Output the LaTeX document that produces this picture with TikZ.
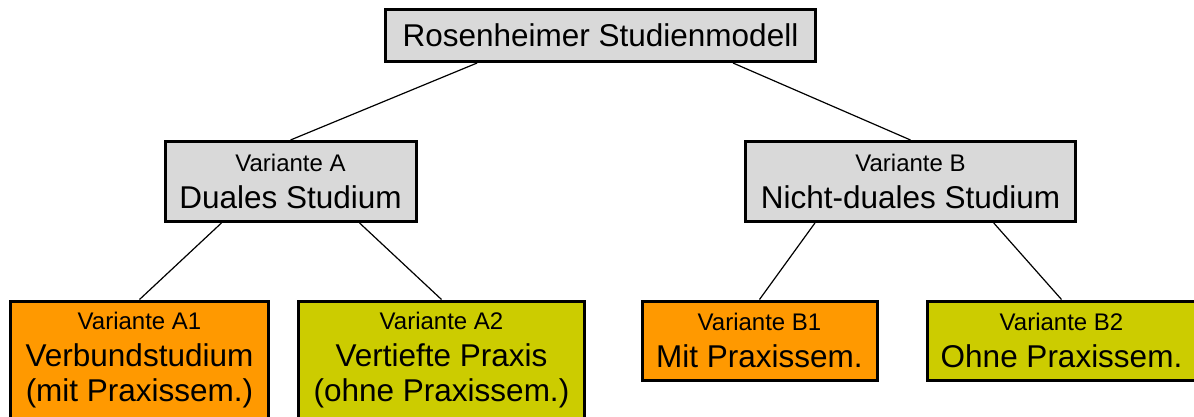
\documentclass[tikz,border=0pt]{standalone}
\usepackage{fontspec}
\setmainfont{Liberation Sans}
\usetikzlibrary{calc}

\definecolor{boxgray}{HTML}{D9D9D9}
\definecolor{varorange}{HTML}{FF9900}
\definecolor{varolive}{HTML}{CCCC00}

\newcommand{\varname}[1]{{\fontsize{24}{28}\selectfont #1}\\[2pt]}

\begin{document}
\begin{tikzpicture}[level 1/.style={level distance=104.5pt, sibling distance=620pt},
        level 2/.style={level distance=118pt, sibling distance=302pt},
        box/.style={draw, line width=3pt, anchor=north, inner sep=0pt, align=center,
            font=\fontsize{31.5}{35}\selectfont},
        stem/.style={edge from parent path={($(\tikzparentnode.south west)!#1!(\tikzparentnode.south east)$) -- (\tikzchildnode.north)}},
        edge from parent/.style={draw, line width=1.2pt}]
            \useasboundingbox (0,0) rectangle (1194pt,-416pt);
            \node [box,fill=boxgray,minimum width=430pt,minimum height=52pt] (root) at (600.5pt,-8pt) {Rosenheimer Studienmodell}
                child[stem=0.215] {node [box,fill=boxgray,minimum width=251pt,minimum height=80pt] (varA) {\varname{Variante A}Duales Studium}
                    child[stem=0.228] {node [box,fill=varorange,minimum width=258pt,minimum height=119pt] (varA1) {\varname{Variante A1}Verbundstudium\\(mit Praxissem.)}}
                    child[stem=0.772] {node [box,fill=varolive,minimum width=286pt,minimum height=119pt] (varA2) {\varname{Variante A2}Vertiefte Praxis\\(ohne Praxissem.)}}
                }
                child[stem=0.806] {node [box,fill=boxgray,minimum width=330pt,minimum height=80pt] (varB) {\varname{Variante B}Nicht-duales Studium}
                    child[stem=0.213] {node [box,fill=varorange,minimum width=235pt,minimum height=79pt] (varB1) {\varname{Variante B1}Mit Praxissem.}}
                    child[stem=0.75] {node [box,fill=varolive,minimum width=269pt,minimum height=79pt] (varB2) {\varname{Variante B2}Ohne Praxissem.}}
                };
        \end{tikzpicture}
\end{document}
